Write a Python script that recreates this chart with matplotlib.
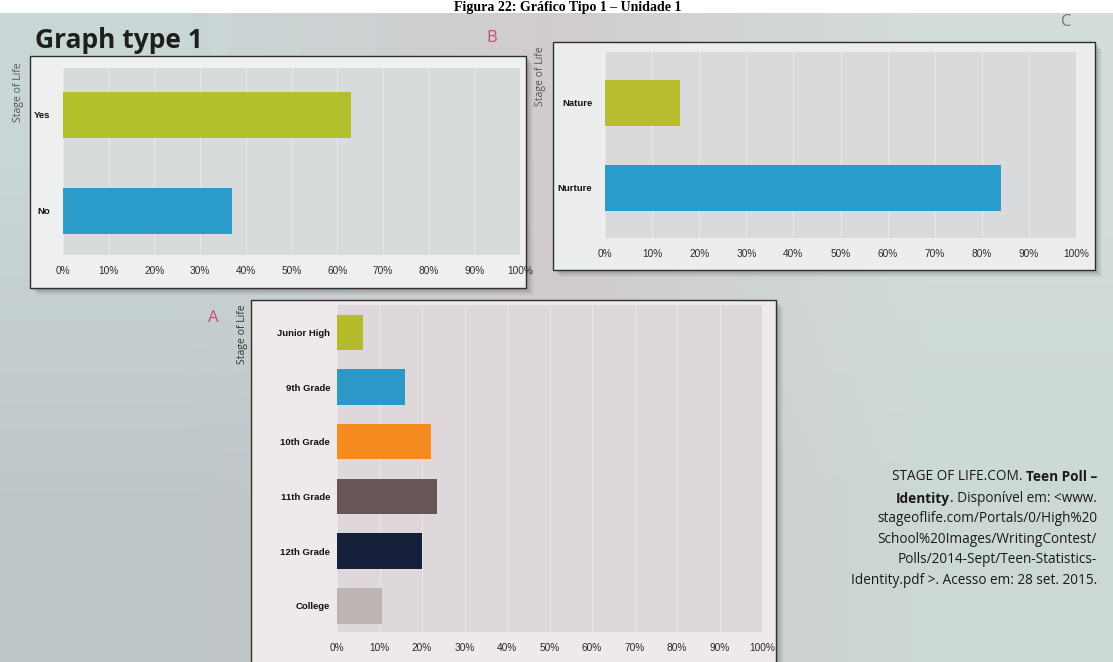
import matplotlib.pyplot as plt
import numpy as np
from matplotlib.patches import Rectangle

# ---------- DATA ----------
stages_b = ["Yes", "No"]
pct_b = [63, 37]
colors_b = ["#b2c02c", "#2b9bc9"]

stages_c = ["Nature", "Nurture"]
pct_c = [16, 84]
colors_c = ["#b8bd2f", "#2a9ccb"]

stages_a = ["Junior High", "9th Grade", "10th Grade", "11th Grade", "12th Grade", "College"]
pct_a = [6, 16, 22, 23.5, 20, 10.5]
colors_a = ["#b4bc2c", "#2b98c8", "#f48a20", "#665656", "#17203a", "#bdb5b4"]

pct_ticks = list(range(0, 101, 10))
tick_labels = [f"{t}%" for t in pct_ticks]

source_lines = [
    ("STAGE OF LIFE.COM. ", "Teen Poll \u2013", "nb"),
    ("Identity", ". Dispon\u00edvel em: <www.", "bn"),
    ("stageoflife.com/Portals/0/High%20", "", "n"),
    ("School%20Images/WritingContest/", "", "n"),
    ("Polls/2014-Sept/Teen-Statistics-", "", "n"),
    ("Identity.pdf >. Acesso em: 28 set. 2015.", "", "n"),
]
# ----------------------------

W, H = 1113, 662
fig = plt.figure(figsize=(W / 100, H / 100), dpi=100)


def fig_box(l, t, r, b):
    return [l / W, 1 - b / H, (r - l) / W, (b - t) / H]


# photo background (soft colour cast of the page)
bg = fig.add_axes([0, 0, 1, 1])
bg.set_zorder(-5)
corners = np.array([
    [[0.79, 0.84, 0.84], [0.82, 0.80, 0.81], [0.83, 0.87, 0.86]],
    [[0.75, 0.78, 0.79], [0.81, 0.78, 0.79], [0.80, 0.85, 0.84]],
])
bg.imshow(corners, aspect="auto", interpolation="bilinear", extent=[0, 1, 0, 1])
bg.set_xlim(0, 1)
bg.set_ylim(0, 1)
bg.axis("off")
bg.add_patch(Rectangle((0, 1 - 13 / H), 1, 13 / H, fc="white", ec="none"))

fig.text(0.51, 1 - 10.5 / H, "Figura 22: Gr\u00e1fico Tipo 1 \u2013 Unidade 1", ha="center",
         va="baseline", fontsize=10, fontweight="bold", family="Liberation Serif", zorder=6)


def card(l, t, r, b, face):
    for k, a in [(7, 0.05), (5, 0.07), (3, 0.09)]:
        fig.add_artist(Rectangle(((l + k) / W, 1 - (b + k) / H), (r - l) / W, (b - t) / H,
                                 transform=fig.transFigure, fc="black", ec="none",
                                 alpha=a, zorder=1))
    fig.add_artist(Rectangle((l / W, 1 - b / H), (r - l) / W, (b - t) / H,
                             transform=fig.transFigure, fc=face, ec="#2e2e2e",
                             lw=1.0, zorder=2))


def bar_panel(box, cats, vals, cols, height, ylim, face, ypad):
    ax = fig.add_axes(fig_box(*box))
    ax.set_zorder(3)
    y = np.arange(len(cats))
    ax.barh(y, vals, height=height, color=cols, zorder=3)
    ax.set_xlim(0, 100)
    ax.set_ylim(*ylim)
    ax.set_facecolor(face)
    ax.set_xticks(pct_ticks, tick_labels)
    ax.set_yticks(y, cats)
    ax.tick_params(axis="x", length=0, pad=8, labelsize=7.3, labelcolor="#2a2a2a")
    ax.tick_params(axis="y", length=0, pad=ypad, labelsize=6.8, labelcolor="#111111")
    for lab in ax.get_xticklabels():
        lab.set_family("Liberation Sans")
    for lab in ax.get_yticklabels():
        lab.set_family("Liberation Sans")
        lab.set_fontweight("bold")
    for s in ax.spines.values():
        s.set_visible(False)
    ax.grid(axis="x", color="white", lw=0.7, alpha=0.4)
    ax.set_axisbelow(True)
    return ax


# panel B
card(30, 56, 526, 288, "#eef0f0")
bar_panel((63, 68, 520, 255), stages_b, pct_b, colors_b, 0.48, (1.46, -0.49), "#d8dbdb", 9)
fig.text(18 / W, 1 - 92 / H, "Stage of Life", rotation=90, ha="center", va="center",
         fontsize=7.5, color="#555555", family="Open Sans")
fig.text(492 / W, 1 - 38 / H, "B", ha="center", va="center", fontsize=12,
         color="#d0457a", family="Open Sans")
fig.text(35 / W, 1 - 48 / H, "Graph type 1", ha="left", va="baseline", fontsize=19,
         fontweight="bold", color="#1e1e1e", family="Open Sans")

# panel C
card(553, 42, 1095, 270, "#eceeee")
bar_panel((605, 52, 1076, 238), stages_c, pct_c, colors_c, 0.55, (1.59, -0.6), "#d8dadb", 9)
fig.text(540 / W, 1 - 76 / H, "Stage of Life", rotation=90, ha="center", va="center",
         fontsize=7.5, color="#555555", family="Open Sans")
fig.text(1066 / W, 1 - 22 / H, "C", ha="center", va="center", fontsize=12,
         color="#777777", family="Open Sans")

# panel A
card(251, 300, 776, 672, "#eee9eb")
bar_panel((337, 305, 762, 632), stages_a, pct_a, colors_a, 0.65, (5.48, -0.5), "#ded8db", 5)
fig.text(242 / W, 1 - 334 / H, "Stage of Life", rotation=90, ha="center", va="center",
         fontsize=7.5, color="#333333", family="Open Sans")
fig.text(213 / W, 1 - 318 / H, "A", ha="center", va="center", fontsize=12,
         color="#d0457a", family="Open Sans")

# source note
x_right = 1097 / W
for i, (first, second, style) in enumerate(source_lines):
    yb = 1 - (481 + i * 20.6) / H
    kw = dict(fontsize=9.8, color="#1a1a1a", family="Open Sans", va="baseline", zorder=6)
    if style == "n":
        fig.text(x_right, yb, first, ha="right", **kw)
    elif style == "nb":
        t2 = fig.text(x_right, yb, second, ha="right", fontweight="bold", **kw)
        fig.add_artist(plt.Annotation(first, xy=(0, 0), xycoords=t2, ha="right",
                                      va="bottom", fontsize=9.8, color="#1a1a1a",
                                      family="Open Sans", zorder=6))
    else:
        t2 = fig.text(x_right, yb, second, ha="right", **kw)
        fig.add_artist(plt.Annotation(first, xy=(0, 0), xycoords=t2, ha="right",
                                      va="bottom", fontsize=9.8, color="#1a1a1a",
                                      family="Open Sans", fontweight="bold", zorder=6))

plt.savefig("out.png", dpi=100)
